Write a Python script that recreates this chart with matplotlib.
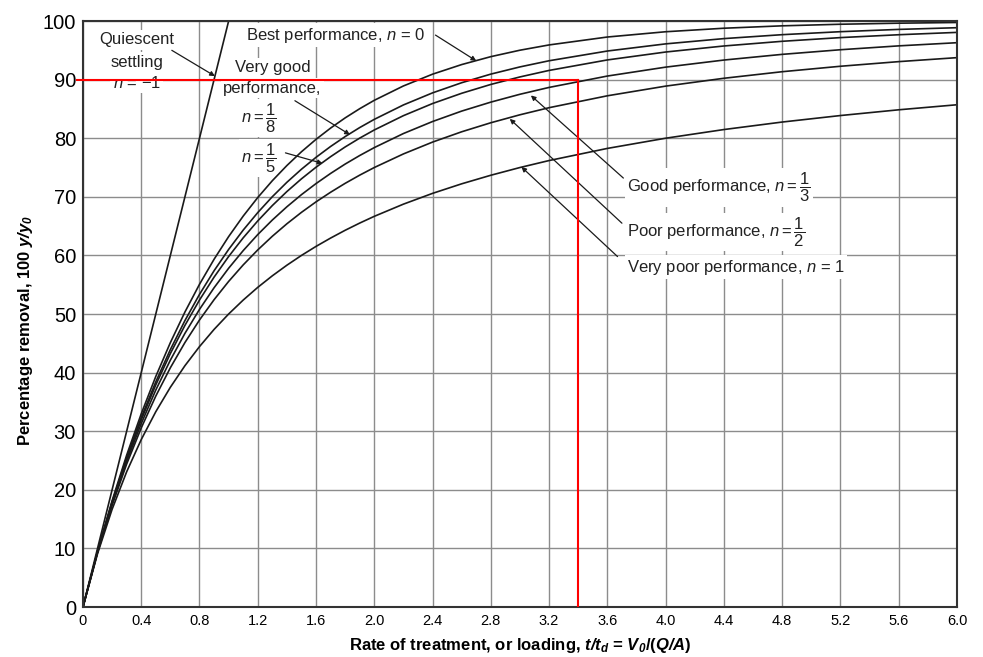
import matplotlib
matplotlib.use('Agg')
import matplotlib.pyplot as plt
import numpy as np

plt.rcParams['font.family'] = ['Liberation Sans', 'DejaVu Sans']
plt.rcParams['mathtext.fontset'] = 'custom'
plt.rcParams['mathtext.rm'] = 'Liberation Sans'
plt.rcParams['mathtext.it'] = 'Liberation Sans:italic'
plt.rcParams['mathtext.bf'] = 'Liberation Sans:italic:bold'

# Taxa de tratamento t/td (eixo x)
carga = [0, 0.1, 0.2, 0.3, 0.4, 0.5, 0.6, 0.7, 0.8, 0.9, 1.0, 1.1, 1.2, 1.3, 1.4, 1.5, 1.6,
         1.7, 1.8, 1.9, 2.0, 2.2, 2.4, 2.6, 2.8, 3.0, 3.2, 3.6, 4.0, 4.4, 4.8, 5.2, 5.6, 6.0]

remocao_n0 = [0, 9.52, 18.13, 25.92, 32.97, 39.35, 45.12, 50.34, 55.07, 59.34, 63.21, 66.71,
              69.88, 72.75, 75.34, 77.69, 79.81, 81.73, 83.47, 85.04, 86.47, 88.92, 90.93,
              92.57, 93.92, 95.02, 95.92, 97.27, 98.17, 98.77, 99.18, 99.45, 99.63, 99.75]
remocao_n1_8 = [0, 9.46, 17.92, 25.51, 32.32, 38.43, 43.93, 48.88, 53.35, 57.38, 61.02, 64.32,
                67.31, 70.02, 72.48, 74.71, 76.74, 78.59, 80.28, 81.82, 83.22, 85.68, 87.74,
                89.47, 90.94, 92.17, 93.22, 94.88, 96.10, 97.00, 97.67, 98.18, 98.57, 98.86]
remocao_n1_5 = [0, 9.43, 17.81, 25.27, 31.94, 37.91, 43.26, 48.06, 52.39, 56.29, 59.81, 63.00,
                65.89, 68.51, 70.90, 73.07, 75.05, 76.85, 78.51, 80.02, 81.41, 83.85, 85.92,
                87.67, 89.18, 90.46, 91.57, 93.36, 94.71, 95.74, 96.54, 97.17, 97.66, 98.06]
remocao_n1_3 = [0, 9.37, 17.60, 24.87, 31.30, 37.03, 42.13, 46.70, 50.79, 54.48, 57.81, 60.82,
                63.56, 66.04, 68.30, 70.37, 72.26, 73.99, 75.59, 77.05, 78.40, 80.80, 82.85,
                84.63, 86.16, 87.50, 88.67, 90.61, 92.13, 93.34, 94.31, 95.10, 95.76, 96.30]
remocao_n1_2 = [0, 9.30, 17.36, 24.39, 30.56, 36.00, 40.83, 45.13, 48.98, 52.44, 55.56, 58.38,
                60.94, 63.27, 65.40, 67.35, 69.14, 70.78, 72.30, 73.70, 75.00, 77.32, 79.34,
                81.10, 82.64, 84.00, 85.21, 87.24, 88.89, 90.23, 91.35, 92.28, 93.07, 93.75]
remocao_n1 = [0, 9.09, 16.67, 23.08, 28.57, 33.33, 37.50, 41.18, 44.44, 47.37, 50.00, 52.38,
              54.55, 56.52, 58.33, 60.00, 61.54, 62.96, 64.29, 65.52, 66.67, 68.75, 70.59,
              72.22, 73.68, 75.00, 76.19, 78.26, 80.00, 81.48, 82.76, 83.87, 84.85, 85.71]

# Sedimentação quiescente (n = -1)
carga_quiescente = [0, 1.0]
remocao_quiescente = [0, 100]

# Leitura marcada em vermelho
carga_lida = 3.4
remocao_lida = 90

curvas = [remocao_n0, remocao_n1_8, remocao_n1_5, remocao_n1_3, remocao_n1_2, remocao_n1]

fig = plt.figure(figsize=(9.83, 6.57), dpi=100)
ax = fig.add_axes([0.0844, 0.0761, 0.8891, 0.8919])

for y in curvas:
    ax.plot(carga, y, color='#1a1a1a', lw=1.2, zorder=4)
ax.plot(carga_quiescente, remocao_quiescente, color='#1a1a1a', lw=1.2, zorder=4)

ax.set_xlim(0, 6.0)
ax.set_ylim(0, 100)
xt = np.arange(0, 6.01, 0.4)
ax.set_xticks(xt)
ax.set_xticklabels(['0'] + [f'{v:.1f}' for v in xt[1:]], fontsize=10.5)
ax.set_yticks(np.arange(0, 101, 10))
ax.tick_params(axis='y', labelsize=14.5, length=0, pad=5)
ax.tick_params(axis='x', length=0, pad=5)
ax.grid(True, color='#8c8c8c', lw=1.0, zorder=0)
ax.set_axisbelow(True)
for s in ax.spines.values():
    s.set_color('#333333')
    s.set_linewidth(1.5)
    s.set_zorder(6)

ax.set_xlabel(r'Rate of treatment, or loading, $\mathbf{t/t_d}$ = $\mathbf{V_0}$/($\mathbf{Q/A}$)',
              fontsize=12, fontweight='bold', labelpad=6)
ax.set_ylabel(r'Percentage removal, 100 $\mathbf{y/y_0}$', fontsize=12, fontweight='bold')
ax.yaxis.set_label_coords(-0.055, 0.472)

caixa = dict(boxstyle='square,pad=0.15', fc='white', ec='none')
fs = 12

def rotulo(x, y, s, ha='center'):
    ax.text(x, y, s, fontsize=fs, ha=ha, va='center', color='#222222', bbox=caixa, zorder=2)

def seta(p_texto, p_curva):
    ax.annotate('', xy=p_curva, xytext=p_texto,
                arrowprops=dict(arrowstyle='-|>', lw=0.9, color='#1a1a1a',
                                shrinkA=0, shrinkB=0, mutation_scale=7), zorder=5)

rotulo(0.37, 96.8, 'Quiescent')
rotulo(0.37, 93.0, 'settling')
rotulo(0.37, 89.5, r'$n$ = −1')
seta((0.61, 95.0), (0.906, 90.6))

rotulo(1.12, 97.6, r'Best performance, $n$ = 0', ha='left')
seta((2.42, 97.6), (2.70, 93.2))

rotulo(1.30, 92.0, 'Very good')
rotulo(1.30, 88.5, 'performance,')
rotulo(1.21, 83.4, r'$n = \dfrac{1}{8}$')
seta((1.455, 86.4), (1.833, 80.6))
rotulo(1.21, 76.6, r'$n = \dfrac{1}{5}$')
seta((1.39, 77.5), (1.645, 75.7))

rotulo(3.735, 71.6, r'Good performance, $n = \dfrac{1}{3}$', ha='left')
seta((3.71, 73.2), (3.075, 87.3))
rotulo(3.735, 64.0, r'Poor performance, $n = \dfrac{1}{2}$', ha='left')
seta((3.70, 65.5), (2.93, 83.3))
rotulo(3.735, 58.0, r'Very poor performance, $n$ = 1', ha='left')
seta((3.67, 59.8), (3.01, 75.1))

# Linhas de leitura em vermelho
ax.plot([-0.04, carga_lida], [remocao_lida, remocao_lida], color='red', lw=1.5, zorder=7, clip_on=False)
ax.plot([carga_lida, carga_lida], [remocao_lida, 0], color='red', lw=1.5, zorder=7)

fig.savefig('out.png', dpi=100)
